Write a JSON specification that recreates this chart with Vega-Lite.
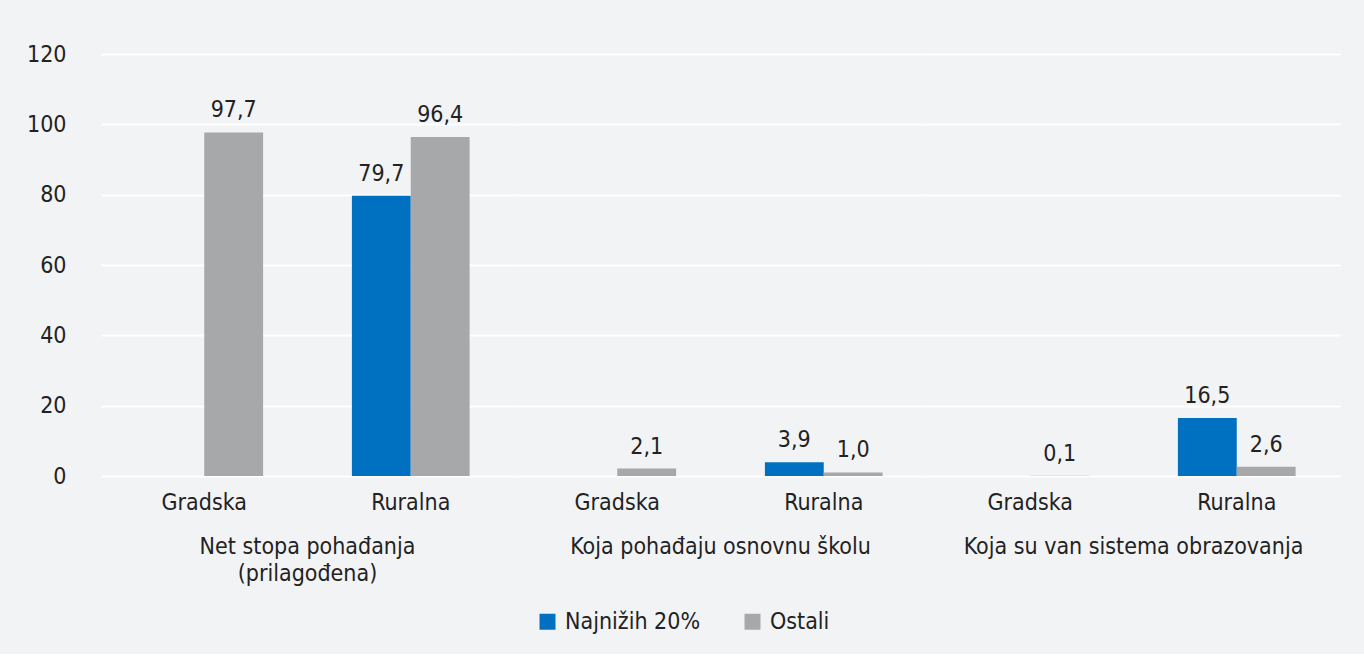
{
  "$schema": "https://vega.github.io/schema/vega-lite/v6.json",
  "background": "#f2f3f5",
  "padding": {"left": 26, "top": 43, "right": 24, "bottom": 20},
  "config": {
    "locale": {"number": {"decimal": ",", "thousands": ".", "grouping": [3], "currency": ["", " €"]}},
    "font": "DejaVu Sans Condensed, sans-serif",
    "view": {"stroke": null},
    "axis": {"labelColor": "#222222", "labelFontSize": 23, "domain": false, "ticks": false, "title": null},
    "header": {"labelColor": "#222222", "labelFontSize": 23},
    "legend": {"labelColor": "#222222", "labelFontSize": 23, "layout": {"bottom": {"anchor": "middle"}}}
  },
  "data": {"values": [
    {"grupa": "Net stopa pohađanja|(prilagođena)", "sub": "Gradska", "serija": "Ostali", "v": 97.7},
    {"grupa": "Net stopa pohađanja|(prilagođena)", "sub": "Ruralna", "serija": "Najnižih 20%", "v": 79.7},
    {"grupa": "Net stopa pohađanja|(prilagođena)", "sub": "Ruralna", "serija": "Ostali", "v": 96.4},
    {"grupa": "Koja pohađaju osnovnu školu", "sub": "Gradska", "serija": "Ostali", "v": 2.1},
    {"grupa": "Koja pohađaju osnovnu školu", "sub": "Ruralna", "serija": "Najnižih 20%", "v": 3.9},
    {"grupa": "Koja pohađaju osnovnu školu", "sub": "Ruralna", "serija": "Ostali", "v": 1.0},
    {"grupa": "Koja su van sistema obrazovanja", "sub": "Gradska", "serija": "Ostali", "v": 0.1},
    {"grupa": "Koja su van sistema obrazovanja", "sub": "Ruralna", "serija": "Najnižih 20%", "v": 16.5},
    {"grupa": "Koja su van sistema obrazovanja", "sub": "Ruralna", "serija": "Ostali", "v": 2.6}
  ]},
  "facet": {
    "column": {
      "field": "grupa",
      "sort": ["Net stopa pohađanja|(prilagođena)", "Koja pohađaju osnovnu školu", "Koja su van sistema obrazovanja"],
      "header": {"title": null, "labelOrient": "bottom", "labelExpr": "split(datum.value, '|')", "labelPadding": 22, "labelLineHeight": 27}
    }
  },
  "spacing": 0,
  "spec": {
    "width": 413,
    "height": 422,
    "encoding": {
      "x": {"field": "sub", "type": "nominal", "sort": ["Gradska", "Ruralna"], "scale": {"paddingInner": 0.43, "paddingOuter": 0.215}, "axis": {"labelAngle": 0, "labelPadding": 15, "grid": false}},
      "xOffset": {"field": "serija", "type": "nominal", "scale": {"domain": ["Najnižih 20%", "Ostali"], "paddingInner": 0}},
      "y": {"field": "v", "type": "quantitative", "scale": {"domain": [0, 120]}, "axis": {"values": [0, 20, 40, 60, 80, 100, 120], "gridColor": "#ffffff", "gridWidth": 2, "labelPadding": 35}}
    },
    "layer": [
      {
        "mark": {"type": "bar"},
        "encoding": {
          "color": {"field": "serija", "type": "nominal", "scale": {"domain": ["Najnižih 20%", "Ostali"], "range": ["#0070c0", "#a7a8aa"]},
            "legend": {"title": null, "orient": "bottom", "direction": "horizontal", "symbolType": "square", "symbolSize": 256, "symbolStrokeWidth": 0, "symbolOpacity": 1, "columnPadding": 40, "labelOffset": 6, "offset": 24}}
        }
      },
      {
        "mark": {"type": "text", "baseline": "alphabetic", "dy": -15, "fontSize": 23, "color": "#222222"},
        "encoding": {"text": {"field": "v", "type": "quantitative", "format": ".1f"}}
      }
    ]
  }
}
